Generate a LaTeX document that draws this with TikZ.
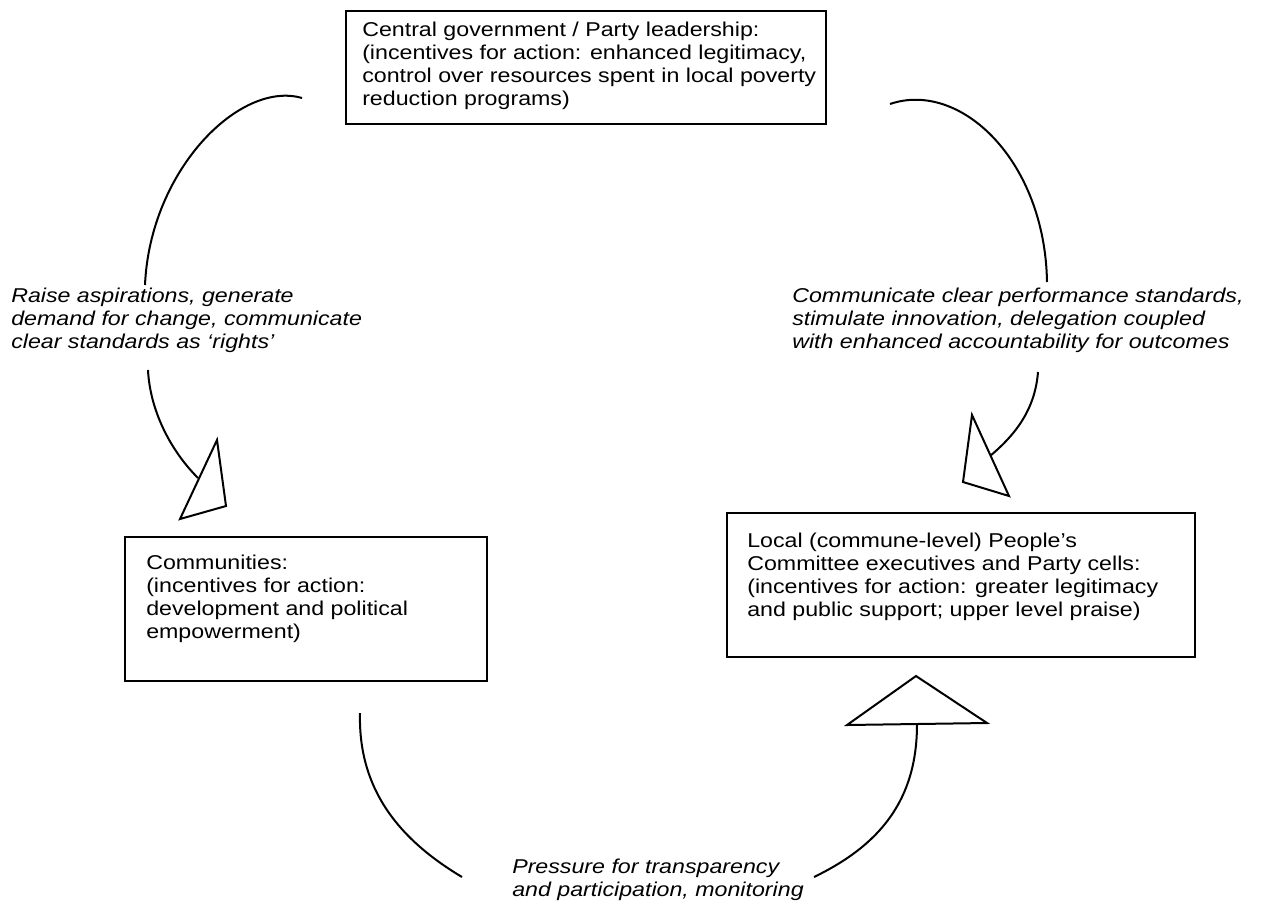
\documentclass[tikz,border=0pt]{standalone}
\usepackage{fontspec}
\setmainfont{Liberation Sans}[FakeStretch=1.16]
\begin{document}
\begin{tikzpicture}[x=0.75pt,y=-0.75pt,
		box/.style={draw,line width=1.5pt,anchor=north west,inner sep=0pt},
		txt/.style={anchor=base west,align=left,inner sep=0pt,font=\fontsize{15}{17.25}\selectfont},
		lbl/.style={txt,font=\fontsize{15}{17.25}\selectfont\itshape},
		arc/.style={line width=1.5pt},
		head/.style={line width=1.5pt,fill=white,line join=miter}]
	\useasboundingbox (0,0) rectangle (1269,911);
	% boxes (text nodes sit on the baseline of their last line)
	\node[box,minimum width=480*0.75pt,minimum height=113*0.75pt] (gov) at (345,10) {};
	\node[txt] (govtext) at (362,105) {Central government / Party leadership:\\(incentives for action: enhanced legitimacy,\\control over resources spent in local poverty\\reduction programs)};
	\node[box,minimum width=362*0.75pt,minimum height=144*0.75pt] (comm) at (124,536) {};
	\node[txt] (commtext) at (146,638) {Communities:\\(incentives for action:\\development and political\\empowerment)};
	\node[box,minimum width=468*0.75pt,minimum height=144*0.75pt] (local) at (726,512) {};
	\node[txt] (localtext) at (747,616) {Local (commune-level) People’s\\Committee executives and Party cells:\\(incentives for action: greater legitimacy\\and public support; upper level praise)};
	% labels
	\node[lbl] (raise) at (11,348) {Raise aspirations, generate\\demand for change, communicate\\clear standards as ‘rights’};
	\node[lbl] (perf) at (792,348) {Communicate clear performance standards,\\stimulate innovation, delegation coupled\\with enhanced accountability for outcomes};
	\node[lbl] (press) at (512,896) {Pressure for transparency\\and participation, monitoring};
	% left arrow
	\coordinate (la) at (302,98);
	\coordinate (lb) at (145,285);
	\coordinate (lc) at (148,370);
	\coordinate (ld) at (198,478);
	\draw[arc] (la) .. controls (240,80) and (150,170) .. (lb);
	\draw[arc] (lc) .. controls (150,410) and (170,450) .. (ld);
	\draw[head] (217,440) -- (226,506) -- (180,519) -- cycle;
	% right arrow
	\coordinate (ra) at (890,104);
	\coordinate (rb) at (1047,282);
	\coordinate (rc) at (1038,372);
	\coordinate (rd) at (990,456);
	\draw[arc] (ra) .. controls (960,80) and (1045,160) .. (rb);
	\draw[arc] (rc) .. controls (1035,410) and (1015,435) .. (rd);
	\draw[head] (972,415) -- (963,482) -- (1009,496) -- cycle;
	% bottom arrow
	\coordinate (ba) at (360,713);
	\coordinate (bb) at (462,877);
	\coordinate (bc) at (814,877);
	\coordinate (bd) at (917,724);
	\draw[arc] (ba) .. controls (358,790) and (400,840) .. (bb);
	\draw[arc] (bc) .. controls (880,845) and (917,800) .. (bd);
	\draw[head] (847,725) -- (916,676) -- (987,723) -- cycle;
\end{tikzpicture}
\end{document}
